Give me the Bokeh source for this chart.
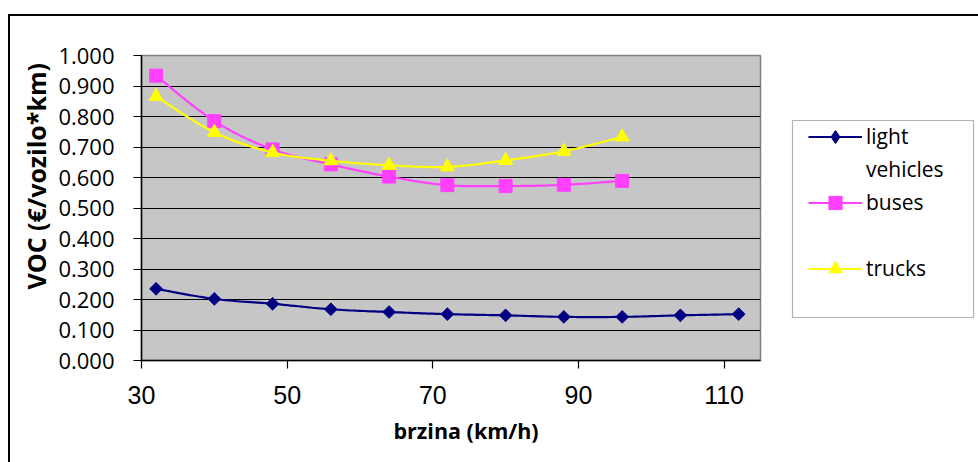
import numpy as np
from bokeh.plotting import figure
from bokeh.layouts import row
from bokeh.models import (FixedTicker, NumeralTickFormatter, Legend, LegendItem, Title,
                          BoxAnnotation, Range1d)
from bokeh.embed import file_html
from bokeh.resources import INLINE

# Vehicle operating cost (VOC) versus speed
speed_light = [32, 40, 48, 56, 64, 72, 80, 88, 96, 104, 112]
voc_light = [0.235, 0.202, 0.186, 0.168, 0.159, 0.152, 0.148, 0.143, 0.143, 0.148, 0.152]

speed_heavy = [32, 40, 48, 56, 64, 72, 80, 88, 96]
voc_buses = [0.934, 0.785, 0.692, 0.643, 0.603, 0.575, 0.572, 0.576, 0.589]
voc_trucks = [0.866, 0.748, 0.682, 0.655, 0.640, 0.635, 0.656, 0.686, 0.733]

legend_rows = ["light", "vehicles", "buses", " ", "trucks"]
x_ticks = [30, 50, 70, 90, 110]
y_ticks = [0.0, 0.1, 0.2, 0.3, 0.4, 0.5, 0.6, 0.7, 0.8, 0.9, 1.0]

NAVY = "#000080"
PINK = "#FF40FF"
YELLOW = "#FFFF00"


def smooth(xs, ys, steps=16):
    """Catmull-Rom style Bezier curve through the points (a smoothed line)."""
    pts = np.column_stack([xs, ys]).astype(float)
    n = len(pts)
    out = [pts[0]]
    t = np.linspace(0, 1, steps + 1)[1:, None]
    for i in range(n - 1):
        p0 = pts[i - 1] if i > 0 else pts[i]
        p1, p2 = pts[i], pts[i + 1]
        p3 = pts[i + 2] if i + 2 < n else pts[i + 1]
        c1 = p1 + (p2 - p0) / 6.0
        c2 = p2 - (p3 - p1) / 6.0
        seg = ((1 - t) ** 3) * p1 + 3 * ((1 - t) ** 2) * t * c1 + 3 * (1 - t) * t ** 2 * c2 + t ** 3 * p2
        out.extend(seg)
    out = np.array(out)
    return out[:, 0], out[:, 1]


def style_series(fig, xs, ys, color, marker, size, angle=0.0):
    xs_s, ys_s = smooth(xs, ys)
    ln = fig.line(xs_s, ys_s, line_color=color, line_width=2.2)
    mk = fig.scatter(xs, ys, marker=marker, size=size, angle=angle,
                     fill_color=color, line_color=color)
    return ln, mk


# ---- main chart -------------------------------------------------------------
p = figure(width=752, height=446, x_range=(30, 115), y_range=(0, 1),
           output_backend="svg", toolbar_location=None,
           min_border_left=131, min_border_right=2,
           min_border_top=39, min_border_bottom=102)

p.background_fill_color = "#C6C6C6"
p.border_fill_color = "white"
p.outline_line_color = "#808080"
p.outline_line_width = 1.5

p.xgrid.grid_line_color = None
p.ygrid.ticker = FixedTicker(ticks=y_ticks)
p.ygrid.grid_line_color = "black"
p.ygrid.grid_line_width = 1.2

p.xaxis.ticker = FixedTicker(ticks=x_ticks)
p.yaxis.ticker = FixedTicker(ticks=y_ticks)
p.yaxis.formatter = NumeralTickFormatter(format="0.000")
for ax in (p.xaxis[0], p.yaxis[0]):
    ax.axis_line_color = "black"
    ax.axis_line_width = 1.5
    ax.major_tick_line_color = "black"
    ax.major_tick_line_width = 1.2
    ax.major_tick_out = 8
    ax.major_tick_in = 0
    ax.minor_tick_line_color = None
    ax.major_label_text_color = "black"

p.yaxis.major_label_text_font = "Open Sans"
p.yaxis.major_label_text_font_size = "22px"
p.yaxis.major_label_standoff = 19

p.xaxis.major_label_text_font = "Liberation Sans"
p.xaxis.major_label_text_font_size = "25px"
p.xaxis.major_label_standoff = 17

# axis titles
p.add_layout(Title(text="VOC (€/vozilo*km)", align="left", offset=71, standoff=5,
                   text_font="Open Sans", text_font_style="bold",
                   text_font_size="25px", text_color="black"), "left")
p.add_layout(Title(text="brzina (km/h)", align="left", offset=252, standoff=15,
                   text_font="Open Sans", text_font_style="bold",
                   text_font_size="21.5px", text_color="black"), "below")

style_series(p, speed_light, voc_light, NAVY, "square", 9, np.pi / 4)
style_series(p, speed_heavy, voc_buses, PINK, "square", 13)
style_series(p, speed_heavy, voc_trucks, YELLOW, "triangle", 14)

# ---- legend panel -----------------------------------------------------------
# The series are drawn again here outside the visible x range, so only their
# legend swatches show.
lg = figure(width=216, height=446, x_range=Range1d(0, 1), y_range=Range1d(0, 1),
            output_backend="svg", toolbar_location=None,
            x_axis_type=None, y_axis_type=None,
            min_border_left=0, min_border_right=0,
            min_border_top=0, min_border_bottom=0)
lg.outline_line_color = None
lg.background_fill_color = "white"
lg.border_fill_color = "white"

l_ln, l_mk = style_series(lg, speed_light, voc_light, NAVY, "diamond", 13)
b_ln, b_mk = style_series(lg, speed_heavy, voc_buses, PINK, "square", 13)
t_ln, t_mk = style_series(lg, speed_heavy, voc_trucks, YELLOW, "triangle", 14)
blank = lg.line(speed_heavy, voc_buses, line_alpha=0)

lg.add_layout(BoxAnnotation(left=30, right=211, top=104, bottom=301,
                            left_units="canvas", right_units="canvas",
                            top_units="canvas", bottom_units="canvas",
                            fill_color="white", fill_alpha=1,
                            line_color="black", line_width=1.2))

legend = Legend(items=[
    LegendItem(label=legend_rows[0], renderers=[l_ln, l_mk]),
    LegendItem(label=legend_rows[1], renderers=[blank]),
    LegendItem(label=legend_rows[2], renderers=[b_ln, b_mk]),
    LegendItem(label=legend_rows[3], renderers=[blank]),
    LegendItem(label=legend_rows[4], renderers=[t_ln, t_mk]),
], location=(46, 75.5))
legend.padding = 0
legend.margin = 0
legend.spacing = 0
legend.border_line_color = None
legend.background_fill_alpha = 0
legend.glyph_width = 54
legend.glyph_height = 33
legend.label_height = 33
legend.label_standoff = 4
legend.label_text_font = "Open Sans"
legend.label_text_font_size = "21px"
legend.label_text_color = "black"
legend.label_text_baseline = "middle"
lg.add_layout(legend, "center")

chart = row(p, lg)
chart.spacing = 0
chart.styles = {"margin-left": "8px", "margin-top": "14px",
                "border-left": "2px solid black", "border-top": "2px solid black"}

open("out.html", "w").write(file_html(chart, INLINE))
